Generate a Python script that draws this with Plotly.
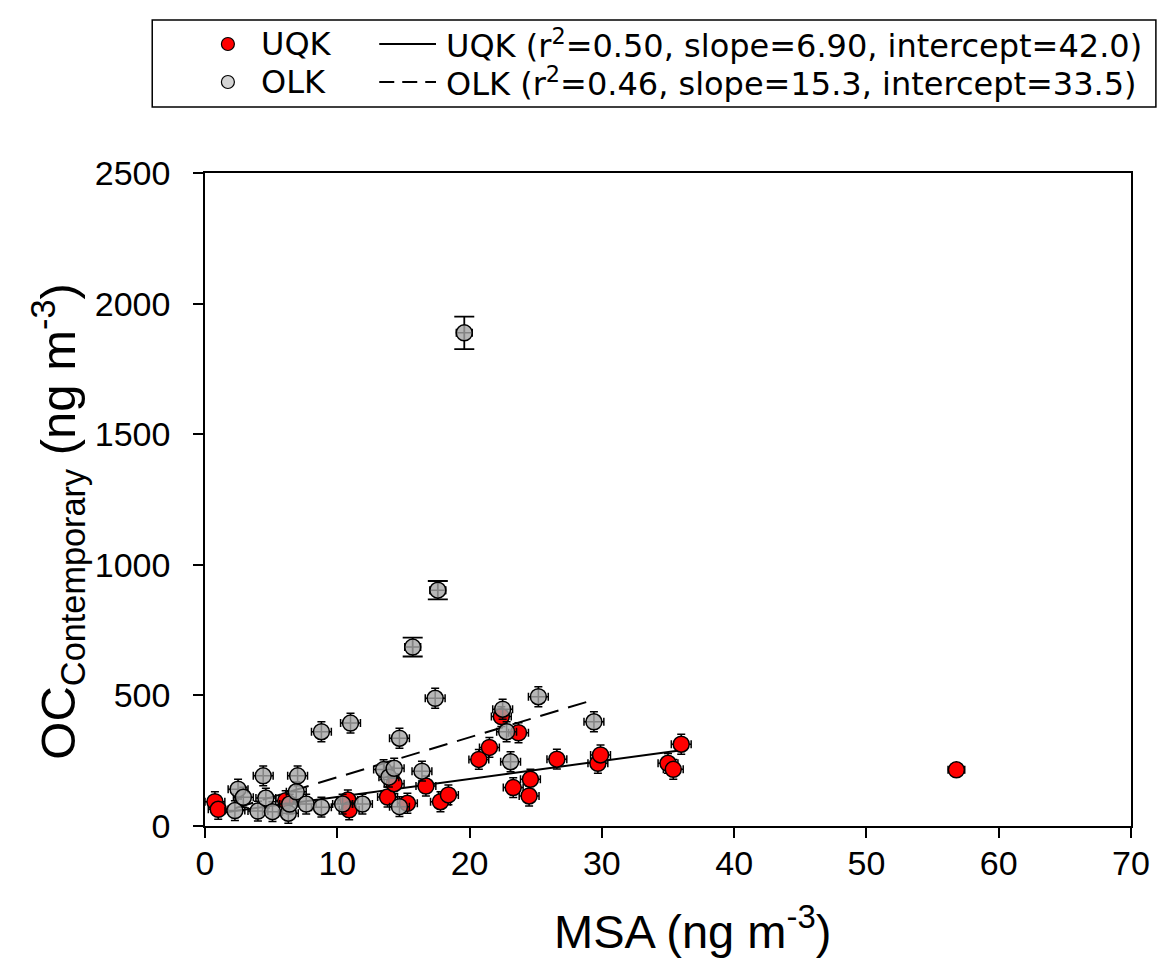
import plotly.graph_objects as go

# UQK samples: MSA (ng m-3), contemporary OC (ng m-3) and their uncertainties
uqk_msa = [0.75, 1.0, 6.1, 10.8, 10.9, 13.8, 14.3, 15.3, 16.7, 17.8, 18.4, 20.7, 21.5,
           22.4, 23.7, 23.3, 24.5, 24.6, 26.6, 29.7, 29.9, 35.0, 35.4, 36.0, 56.8]
uqk_oc = [93, 64, 97, 100, 62, 111, 162, 87, 153, 93, 119, 255, 301,
          419, 357, 147, 115, 179, 256, 240, 272, 240, 217, 313, 215]
uqk_msa_err = [0.75] * 24 + [0.63]
uqk_oc_err = [38] * 24 + [20]

# OLK samples
olk_msa = [2.26, 2.5, 2.9, 4.0, 4.4, 4.6, 5.1, 6.3, 6.4, 6.9, 7.0, 7.65, 8.8, 8.8, 10.4,
           11.0, 11.9, 13.5, 13.9, 14.3, 14.7, 14.7, 15.7, 16.4, 17.4, 17.6, 19.6, 22.5,
           22.8, 23.1, 25.2, 29.4]
olk_oc = [59, 141, 110, 57, 192, 107, 55, 49, 84, 131, 192, 84, 72, 361, 84,
          394, 84, 216, 187, 221, 74, 336, 685, 210, 489, 903, 1888, 447,
          361, 246, 495, 399]
olk_msa_err = [0.75] * 22 + [0.6] + [0.75] * 2 + [0.6, 0.6] + [0.75] * 5
olk_oc_err = [38] * 22 + [36] + [38] * 2 + [35, 62] + [38] * 5

# Linear fits (slope, intercept) and the MSA span each fit covers
uqk_fit = dict(r2=0.50, slope=6.90, intercept=42.0, x_range=(0.75, 36.0))
olk_fit = dict(r2=0.46, slope=15.3, intercept=33.5, x_range=(2.26, 29.4))

x_ticks = [0, 10, 20, 30, 40, 50, 60, 70]
y_ticks = [0, 500, 1000, 1500, 2000, 2500]

FONT = "Liberation Sans, Arial, sans-serif"
LEGEND_FONT = "DejaVu Sans, Liberation Sans, sans-serif"
RED = "#FF0000"
GRAY = "rgba(165,165,165,0.8)"
LEGEND_GRAY = "#D4D4D4"
OLK_DASH = "19px,10px"

# plot-area pixel frame, used to place the legend block and titles
W, H = 1162, 967
L, R, T, B = 205, 27, 173, 141
PW, PH = W - L - R, H - T - B


def px_x(px):
    return (px - L) / PW


def px_y(py):
    return (H - B - py) / PH


def fit_line(fit):
    x0, x1 = fit["x_range"]
    xs = [x0, x1]
    ys = [fit["slope"] * x + fit["intercept"] for x in xs]
    return xs, ys


def fit_label(name, fit):
    slope_txt = f"{fit['slope']:.2f}" if fit["slope"] < 10 else f"{fit['slope']:.1f}"
    return (f"{name} (r<sup>2</sup>={fit['r2']:.2f}, slope={slope_txt}, "
            f"intercept={fit['intercept']:.1f})")


fig = go.Figure()

# Regression lines (drawn first so the symbols sit on top)
for fit, dash in [(uqk_fit, "solid"), (olk_fit, OLK_DASH)]:
    xs, ys = fit_line(fit)
    fig.add_trace(go.Scatter(
        x=xs, y=ys, mode="lines", showlegend=False, hoverinfo="skip",
        line=dict(color="black", width=2, dash=dash),
    ))

err_small = dict(type="data", color="black", thickness=1.5, width=4)
err_wide = dict(type="data", color="black", thickness=1.8, width=10)

fig.add_trace(go.Scatter(
    x=uqk_msa, y=uqk_oc, mode="markers", name="UQK", showlegend=False,
    marker=dict(size=16, color=RED, line=dict(color="black", width=1.5)),
    error_x=dict(array=uqk_msa_err, **err_small),
    error_y=dict(array=uqk_oc_err, **err_small),
))

# OLK: the high-OC episodes carry wider caps on their OC error bars
high = [i for i, v in enumerate(olk_oc) if v > 600]
low = [i for i in range(len(olk_oc)) if i not in high]
for idx, ey in [(low, err_small), (high, err_wide)]:
    fig.add_trace(go.Scatter(
        x=[olk_msa[i] for i in idx], y=[olk_oc[i] for i in idx],
        mode="markers", name="OLK", showlegend=False,
        marker=dict(size=16, color=GRAY, line=dict(color="black", width=1.5)),
        error_x=dict(array=[olk_msa_err[i] for i in idx], **err_small),
        error_y=dict(array=[olk_oc_err[i] for i in idx], **ey),
    ))

axis_common = dict(
    showline=True, linecolor="black", linewidth=1.5, mirror=True,
    ticks="outside", ticklen=10, tickwidth=1.5, tickcolor="black",
    showgrid=False, zeroline=False,
    tickfont=dict(family=FONT, size=34, color="black"),
)

# Legend block: symbol + name on the left, line sample + fit summary on the right
rows = [
    ("UQK", RED, uqk_fit, "solid", 44),
    ("OLK", LEGEND_GRAY, olk_fit, "15px,8px", 82),
]
shapes = [dict(
    type="rect", xref="paper", yref="paper",
    x0=px_x(152), x1=px_x(1160), y0=px_y(107), y1=px_y(20),
    line=dict(color="black", width=1.5), fillcolor="rgba(0,0,0,0)", layer="above",
)]
annotations = []
for name, color, fit, dash, py in rows:
    shapes.append(dict(
        type="circle", xref="paper", yref="paper",
        xsizemode="pixel", ysizemode="pixel",
        xanchor=px_x(228), yanchor=px_y(py), x0=-6.5, x1=6.5, y0=-6.5, y1=6.5,
        fillcolor=color, line=dict(color="black", width=1.2),
    ))
    shapes.append(dict(
        type="line", xref="paper", yref="paper",
        x0=px_x(380), x1=px_x(437), y0=px_y(py), y1=px_y(py),
        line=dict(color="black", width=1.8, dash=dash),
    ))
    annotations.append(dict(
        text=name, xref="paper", yref="paper", x=px_x(260), y=px_y(py),
        xanchor="left", yanchor="middle", showarrow=False, borderpad=0,
        font=dict(family=LEGEND_FONT, size=32, color="black"),
    ))
    annotations.append(dict(
        text=fit_label(name, fit), xref="paper", yref="paper",
        x=px_x(446), y=px_y(py), xanchor="left", yanchor="middle", showarrow=False,
        borderpad=0, font=dict(family=LEGEND_FONT, size=32, color="black"),
    ))

# Axis titles
annotations.append(dict(
    text="MSA (ng m<sup>-3</sup>)", xref="paper", yref="paper",
    x=px_x(695), y=px_y(928), xanchor="center", yanchor="middle", showarrow=False,
    font=dict(family=FONT, size=47, color="black"),
))
annotations.append(dict(
    text="OC<sub>Contemporary</sub> (ng m<sup>-3</sup>)", xref="paper", yref="paper",
    x=px_x(57), y=px_y(521), xanchor="center", yanchor="middle", showarrow=False,
    textangle=-90, font=dict(family=FONT, size=49, color="black"),
))

fig.update_layout(
    width=W, height=H,
    margin=dict(l=L, r=R, t=T, b=B),
    paper_bgcolor="white", plot_bgcolor="white",
    font=dict(family=FONT, color="black"),
    showlegend=False,
    xaxis=dict(range=[0, 70], tickvals=x_ticks, ticklabelstandoff=-4, **axis_common),
    yaxis=dict(range=[0, 2500], tickvals=y_ticks, ticklabelstandoff=16, **axis_common),
    shapes=shapes,
    annotations=annotations,
)

fig.write_html("out.html")
